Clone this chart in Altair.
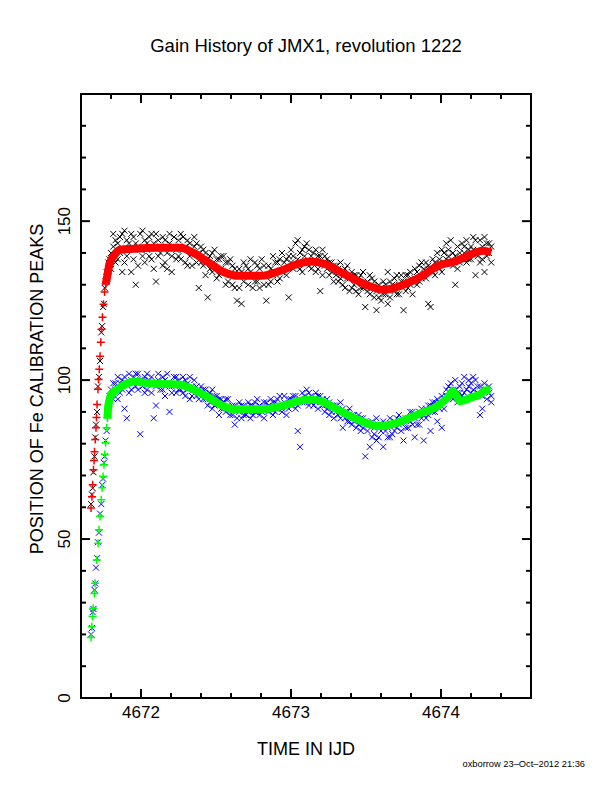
import altair as alt
import pandas as pd

FONT = "Liberation Sans"
W, H = 450, 604

TITLE = "Gain History of JMX1, revolution 1222"
X_TITLE = "TIME IN IJD"
Y_TITLE = "POSITION OF Fe CALIBRATION PEAKS"
FOOTER = "oxborrow 23\u2013Oct\u20132012 21:36"

T0 = 4671.0
# raw sample times (days after 4671)
T_RAW = [
    0.667, 0.673, 0.678, 0.683, 0.690, 0.695, 0.700, 0.707, 0.713, 0.720, 0.727,
    0.735, 0.741, 0.747, 0.753, 0.758, 0.764, 0.771, 0.776, 0.782, 0.790,
    0.800, 0.815, 0.830, 0.845, 0.860, 0.875, 0.890, 0.905, 0.920, 0.935,
    0.950, 0.965, 0.980, 0.995, 1.010, 1.025, 1.040, 1.055, 1.070, 1.085,
    1.100, 1.115, 1.130, 1.145, 1.160, 1.175, 1.190, 1.205, 1.220, 1.235,
    1.250, 1.265, 1.280, 1.295, 1.310, 1.325, 1.340, 1.355, 1.370, 1.385,
    1.400, 1.415, 1.430, 1.445, 1.460, 1.475, 1.490, 1.505, 1.520, 1.535,
    1.550, 1.565, 1.580, 1.595, 1.610, 1.625, 1.640, 1.655, 1.670, 1.685,
    1.700, 1.715, 1.730, 1.745, 1.760, 1.775, 1.790, 1.805, 1.820, 1.835,
    1.850, 1.865, 1.880, 1.895, 1.910, 1.925, 1.940, 1.955, 1.970, 1.985,
    2.000, 2.015, 2.030, 2.045, 2.060, 2.075, 2.090, 2.105, 2.120, 2.135,
    2.150, 2.165, 2.180, 2.195, 2.210, 2.225, 2.240, 2.255, 2.270, 2.285,
    2.300, 2.315, 2.330, 2.345, 2.360, 2.375, 2.390, 2.405, 2.420, 2.435,
    2.450, 2.465, 2.480, 2.495, 2.510, 2.525, 2.540, 2.555, 2.570, 2.585,
    2.600, 2.615, 2.630, 2.645, 2.660, 2.675, 2.690, 2.705, 2.720, 2.735,
    2.750, 2.765, 2.780, 2.795, 2.810, 2.825, 2.840, 2.855, 2.870, 2.885,
    2.900, 2.915, 2.930, 2.945, 2.960, 2.975, 2.990, 3.005, 3.020, 3.035,
    3.050, 3.065, 3.080, 3.095, 3.110, 3.125, 3.140, 3.155, 3.170, 3.185,
    3.200, 3.215, 3.230, 3.245, 3.260, 3.275, 3.290, 3.305, 3.320, 3.335,
]
N_EARLY = 21
# upper peak, raw (black x)
UP_RAW = [
    61, 64, 66, 71, 76, 82, 86, 90, 98, 101, 106, 115, 117, 123, 124, 129, 131, 134, 132, 137, 138,
    140, 146, 137, 143, 145, 134, 147, 139, 143, 134,
    145, 130, 142, 146, 139, 144, 141, 145, 138, 143,
    131, 144, 140, 145, 137, 135, 143, 139, 145, 141,
    144, 138, 145, 142, 136, 143, 140, 145, 137, 129,
    142, 136, 140, 126, 139, 134, 141, 132, 138, 135,
    139, 130, 137, 133, 136, 129, 125, 135, 124, 131,
    136, 130, 134, 129, 137, 131, 135, 138, 130, 125,
    136, 131, 139, 134, 137, 132, 140, 135, 138, 126,
    141, 135, 143, 138, 140, 134, 142, 137, 141, 135,
    140, 134, 139, 128, 141, 136, 138, 133, 137, 131,
    136, 131, 137, 130, 135, 132, 128, 134, 130, 133,
    127, 133, 129, 123, 131, 127, 132, 126, 122, 130,
    125, 131, 127, 134, 126, 130, 128, 133, 127, 131,
    122, 133, 129, 134, 131, 135, 130, 136, 132, 135,
    137, 124, 123, 138, 133, 140, 135, 141, 137, 143,
    139, 144, 136, 130, 142, 137, 143, 140, 144, 138,
    142, 145, 133, 141, 144, 138, 134, 143, 140, 142,
]
# second reading of the upper peak at the same times (after the steep rise)
UP_RAW2 = [
    135, 142, 144, 138, 140, 146, 137, 144, 141, 146,
    138, 143, 136, 141, 147, 137, 143, 139, 146, 135,
    146, 139, 142, 136, 144, 140, 146, 134, 142, 138,
    139, 146, 141, 137, 144, 139, 136, 142, 143, 140,
    137, 141, 133, 138, 135, 140, 136, 138, 133, 139,
    134, 137, 131, 138, 130, 135, 133, 129, 134, 137,
    133, 135, 138, 133, 131, 136, 129, 133, 136, 133,
    130, 135, 133, 137, 131, 138, 134, 137, 133, 139,
    137, 139, 136, 144, 135, 141, 139, 143, 136, 139,
    137, 141, 135, 139, 133, 139, 135, 137, 134, 136,
    133, 135, 132, 134, 129, 136, 132, 129, 133, 128,
    132, 129, 134, 130, 128, 133, 129, 131, 128, 126,
    129, 127, 130, 124, 131, 129, 132, 127, 130, 133,
    131, 128, 133, 130, 127, 132, 134, 131, 137, 133,
    132, 136, 135, 134, 137, 136, 138, 134, 140, 138,
    141, 137, 140, 139, 135, 140, 138, 142, 137, 141,
    138, 141, 144, 139, 137, 142, 145, 139, 143, 137,
]
# lower peak, raw (blue x)
LO_RAW = [
    20, 22, 27, 28, 34, 36, 41, 44, 49, 52, 58, 61, 67, 69, 74, 76, 81, 84, 89, 90, 95,
    97, 94, 99, 101, 96, 100, 91, 88, 102, 97,
    101, 98, 102, 83, 100, 96, 102, 99, 101, 88,
    92, 100, 97, 101, 95, 99, 90, 98, 101, 96,
    100, 97, 101, 95, 99, 94, 98, 100, 95, 97,
    98, 94, 97, 92, 96, 91, 95, 93, 89, 94,
    93, 90, 94, 89, 92, 86, 91, 93, 88, 92,
    89, 93, 88, 92, 90, 94, 89, 91, 88, 93,
    90, 94, 89, 93, 91, 95, 90, 93, 89, 94,
    92, 95, 91, 84, 79, 96, 93, 97, 92, 95,
    94, 96, 91, 95, 92, 90, 94, 89, 92, 88,
    92, 89, 93, 85, 90, 87, 91, 86, 89, 85,
    89, 84, 88, 76, 86, 79, 87, 83, 88, 82,
    86, 79, 84, 82, 88, 83, 87, 85, 89, 84,
    81, 88, 85, 90, 86, 82, 89, 86, 91, 81,
    88, 92, 84, 90, 93, 87, 91, 85, 94, 97,
    95, 99, 97, 100, 96, 98, 95, 101, 97, 100,
    99, 101, 95, 98, 89, 91, 97, 94, 96, 93,
]
LO_RAW2 = [
    95, 99, 97, 94, 99, 97, 101, 99, 96, 100,
    99, 102, 97, 100, 98, 101, 97, 100, 96, 99,
    98, 102, 99, 97, 100, 102, 98, 96, 99, 101,
    97, 99, 96, 100, 97, 101, 95, 97, 98, 94,
    96, 97, 94, 95, 93, 97, 92, 95, 94, 91,
    91, 94, 92, 91, 89, 92, 88, 90, 92, 89,
    91, 90, 92, 89, 93, 90, 92, 90, 93, 91,
    92, 91, 93, 90, 94, 92, 91, 95, 92, 91,
    94, 93, 95, 92, 94, 93, 95, 94, 96, 93,
    92, 93, 95, 93, 94, 92, 91, 93, 90, 92,
    90, 91, 88, 91, 88, 90, 87, 89, 87, 88,
    86, 88, 85, 87, 84, 86, 82, 85, 81, 86,
    84, 87, 86, 85, 82, 86, 84, 88, 86, 87,
    87, 85, 88, 87, 90, 88, 86, 90, 88, 89,
    91, 89, 92, 93, 90, 94, 93, 95, 91, 95,
    98, 96, 94, 97, 93, 96, 99, 96, 94, 98,
    96, 97, 100, 96, 98, 95, 99, 97, 98, 95,
]

# fitted upper peak: separate + markers on the steep rise, then the smooth band
UP_PLUS_T = [4671.667, 4671.673, 4671.678, 4671.683, 4671.687, 4671.690, 4671.695,
             4671.700, 4671.703, 4671.707, 4671.713, 4671.717, 4671.722, 4671.727,
             4671.732, 4671.737, 4671.743, 4671.750, 4671.757, 4671.765, 4671.777, 4671.790]
UP_PLUS_V = [59.8, 63.3, 67.1, 71.8, 74.7, 77.5, 81.3, 85.0, 88.2, 92.3, 97.1, 100.2,
             103.4, 107.5, 111.9, 116.0, 119.8, 123.9, 127.7, 130.2, 133.3, 136.5]
UP_FIT_T = [4671.765, 4671.777, 4671.790, 4671.827, 4671.860, 4671.950, 4672.100, 4672.260,
            4672.350, 4672.450, 4672.550, 4672.650, 4672.800, 4672.930, 4673.050, 4673.130,
            4673.220, 4673.350, 4673.500, 4673.620, 4673.750, 4673.900, 4673.960, 4674.100,
            4674.200, 4674.280, 4674.335]
UP_FIT_V = [130.2, 133.3, 136.5, 139.6, 141.0, 141.3, 141.6, 141.6, 140.0, 137.0, 134.0,
            132.8, 132.8, 134.4, 136.6, 137.3, 136.6, 133.5, 130.0, 128.4, 130.0, 133.5,
            135.5, 137.5, 139.5, 140.7, 140.2]

# fitted lower peak
LO_PLUS_T = [4671.667, 4671.672, 4671.677, 4671.681, 4671.689, 4671.694, 4671.705,
             4671.714, 4671.720, 4671.727, 4671.735, 4671.741, 4671.747, 4671.753,
             4671.758, 4671.764, 4671.771, 4671.776, 4671.782]
LO_PLUS_V = [19.0, 22.4, 25.6, 28.2, 32.9, 36.1, 43.4, 48.7, 52.9, 57.1, 62.4, 66.1,
             69.7, 73.4, 76.6, 80.3, 85.0, 88.1, 91.8]
LO_FIT_T = [4671.776, 4671.782, 4671.790, 4671.800, 4671.840, 4671.900, 4671.950, 4672.050,
            4672.260, 4672.350, 4672.450, 4672.550, 4672.620, 4672.800, 4672.950, 4673.050,
            4673.130, 4673.200, 4673.300, 4673.450, 4673.590, 4673.700, 4673.850, 4673.990,
            4674.050, 4674.080, 4674.130, 4674.200, 4674.260, 4674.300, 4674.330]
LO_FIT_V = [88.1, 91.8, 93.8, 95.3, 97.0, 98.8, 99.6, 99.0, 98.6, 97.0, 94.5, 91.8, 90.8,
            90.8, 92.0, 93.4, 93.9, 93.4, 91.0, 87.5, 85.5, 86.5, 89.3, 92.3, 94.8, 96.5,
            93.4, 94.5, 95.5, 96.8, 96.8]

X_DOMAIN = [4671.6, 4674.6]
Y_DOMAIN = [0, 190]
X_MAJOR = [4672, 4673, 4674]
X_LABELS = ["4672", "4673", "4674"]
X_MINOR = [4671.8, 4672.2, 4672.4, 4672.6, 4672.8, 4673.2, 4673.4, 4673.6, 4673.8,
           4674.2, 4674.4]
Y_MAJOR = [0, 50, 100, 150]
Y_LABELS = ["0", "50", "100", "150"]
Y_MINOR = [10, 20, 30, 40, 60, 70, 80, 90, 110, 120, 130, 140, 160, 170, 180]

XSHAPE = "M-1,-1L1,1M-1,1L1,-1"
PSHAPE = "M-1,0L1,0M0,-1L0,1"

xs = alt.Scale(domain=X_DOMAIN, nice=False, zero=False)
ys = alt.Scale(domain=Y_DOMAIN, nice=False, zero=False)


def X(field):
    return alt.X(field, type="quantitative", scale=xs, axis=None)


def Y(field):
    return alt.Y(field, type="quantitative", scale=ys, axis=None)


raw1 = pd.DataFrame({"t": [T0 + v for v in T_RAW], "up": UP_RAW, "lo": LO_RAW})
raw2 = pd.DataFrame({"t": [T0 + v for v in T_RAW[N_EARLY:]], "up": UP_RAW2, "lo": LO_RAW2})


def scatter(df, field, color):
    return alt.Chart(df).mark_point(shape=XSHAPE, filled=False, color=color,
                                    strokeWidth=1, size=36, opacity=1).encode(
        x=X("t"), y=Y(field))


def fit_layers(pt, pv, ft, fv, color):
    p = pd.DataFrame({"t": pt, "v": pv})
    f = pd.DataFrame({"t": ft, "v": fv})
    plus = alt.Chart(p).mark_point(shape=PSHAPE, filled=False, color=color,
                                   strokeWidth=1.5, size=64, opacity=1).encode(
        x=X("t"), y=Y("v"))
    band = alt.Chart(f).mark_line(color=color, strokeWidth=8, interpolate="monotone",
                                  opacity=1).encode(x=X("t"), y=Y("v"))
    return [band, plus]


data_layers = ([scatter(raw1, "up", "black"), scatter(raw2, "up", "black")]
               + fit_layers(UP_PLUS_T, UP_PLUS_V, UP_FIT_T, UP_FIT_V, "#ff0000")
               + [scatter(raw1, "lo", "#0000ff"), scatter(raw2, "lo", "#0000ff")]
               + fit_layers(LO_PLUS_T, LO_PLUS_V, LO_FIT_T, LO_FIT_V, "#00ff00"))


def x_ticks(vals, L):
    base = alt.Chart(pd.DataFrame({"t": vals})).mark_rule(color="black", strokeWidth=2)
    return [base.encode(x=X("t"), y=alt.value(H), y2=alt.value(H - L)),
            base.encode(x=X("t"), y=alt.value(0), y2=alt.value(L))]


def y_ticks(vals, L):
    base = alt.Chart(pd.DataFrame({"v": vals})).mark_rule(color="black", strokeWidth=2)
    return [base.encode(y=Y("v"), x=alt.value(0), x2=alt.value(L)),
            base.encode(y=Y("v"), x=alt.value(W), x2=alt.value(W - L))]


tick_layers = x_ticks(X_MAJOR, 9) + x_ticks(X_MINOR, 5) + y_ticks(Y_MAJOR, 9) + y_ticks(Y_MINOR, 5)

x_lab = alt.Chart(pd.DataFrame({"t": X_MAJOR, "s": X_LABELS})).mark_text(
    font=FONT, fontSize=17, align="center", baseline="alphabetic", color="black").encode(
    x=X("t"), y=alt.value(H + 20), text="s:N")
y_lab = alt.Chart(pd.DataFrame({"v": Y_MAJOR, "s": Y_LABELS})).mark_text(
    font=FONT, fontSize=17, angle=270, align="center", baseline="alphabetic", color="black").encode(
    y=Y("v"), x=alt.value(-11), text="s:N")


def note(text, x, y, size, angle=0, align="center"):
    return alt.Chart(pd.DataFrame({"s": [text]})).mark_text(
        font=FONT, fontSize=size, angle=angle, align=align, baseline="alphabetic",
        color="black").encode(x=alt.value(x), y=alt.value(y), text="s:N")


text_layers = [
    x_lab, y_lab,
    note(TITLE, W / 2, -42, 18.5),
    note(X_TITLE, W / 2, H + 57, 18),
    note(Y_TITLE, -38, 295, 18, angle=270),
    note(FOOTER, 504, 673, 9.3, align="right"),
]

chart = alt.layer(*data_layers, *tick_layers, *text_layers).properties(
    width=W, height=H,
    padding={"left": 73, "top": 86, "right": 73, "bottom": 90},
    autosize=alt.AutoSizeParams(type="none"),
).configure_view(stroke="black", strokeWidth=2)

chart.save("out.html", embed_options={"renderer": "svg", "actions": False})
